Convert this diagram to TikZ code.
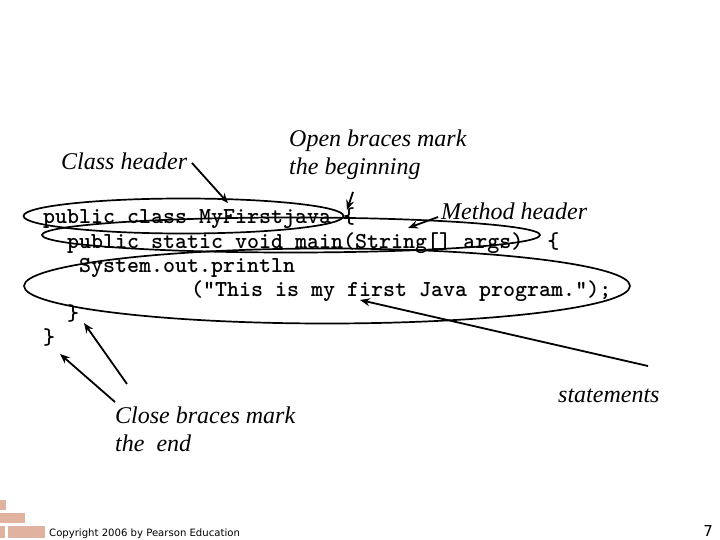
\documentclass[tikz,border=0pt]{standalone}
\usepackage{fontspec}
\setmainfont{Liberation Serif}
\setsansfont{DejaVu Sans}
\usepackage{tikz}
\usetikzlibrary{shapes.geometric, arrows.meta, positioning}
\usepackage{xcolor}
\definecolor{brickRed}{RGB}{226,178,160}

\begin{document}
\begin{tikzpicture}[
    x=1pt, y=-1pt,
    codeline/.style={anchor=base west, inner sep=0pt, font=\ttfamily\bfseries\fontsize{22.86}{24}\selectfont},
    note/.style={anchor=base west, inner sep=0pt, align=left, font=\itshape\fontsize{24}{28}\selectfont},
    ring/.style={ellipse, draw, line width=1.7pt, inner sep=0pt},
    arrow/.style={-{Stealth[length=3.5mm, width=2.8mm]}, line width=1.8pt},
    brick/.style={fill=brickRed, draw=none}
]
\useasboundingbox (0,0) rectangle (720,540);

% bricks in the corner
\fill[brick] (0,500) rectangle (6,510);
\fill[brick] (0,513) rectangle (25,523);
\fill[brick] (0,526) rectangle (5,538);
\fill[brick] (8,526) rectangle (45,538);

% code
\node[codeline] (line1) at (43,224) {public class MyFirstjava \{};
\node[codeline] (line2) at (67,248) {public static void main(String[] args) \ \{};
\node[codeline] (line3) at (79,272) {System.out.println};
\node[codeline] (line4) at (191,296) {("This is my first Java program.");};
\node[codeline] (line5) at (67,320) {\}};
\node[codeline] (line6) at (43,344) {\}};

% labels
\node[note] (classnote) at (61,170) {Class header};
\node[note] (opennote) at (289,175) {Open braces mark\\the beginning};
\node[note] (methodnote) at (441,219) {Method header};
\node[note] (closenote) at (115,451) {Close braces mark\\the\ \ end};
\node[note] (statenote) at (558,402) {statements};

\node[anchor=base west, inner sep=0pt, font=\sffamily\fontsize{10.1}{12}\selectfont] (copyright) at (49,536) {Copyright 2006 by Pearson Education};
\node[anchor=base east, inner sep=0pt, font=\sffamily\fontsize{15}{18}\selectfont] (pagenum) at (713,536) {7};

% rings
\node[ring, minimum width=320pt, minimum height=35pt] (classring) at (183.5,216) {};
\node[ring, minimum width=498pt, minimum height=35pt] (methodring) at (291,235) {};
\node[ring, minimum width=606pt, minimum height=75pt] (bodyring) at (327,286) {};

% free ends of the arrows
\coordinate (classtip) at (228,203);
\coordinate (opentip) at (347,210);
\coordinate (methodtip) at (408,228);
\coordinate (statetip) at (360,300);
\coordinate (innertip) at (84,323);
\coordinate (outertip) at (60,354);
\coordinate (classtail) at (192,163);
\coordinate (opentail) at (353,192);
\coordinate (methodtail) at (438,217);
\coordinate (statetail) at (648,366);
\coordinate (innertail) at (127,384);
\coordinate (outertail) at (115,402);

\draw[arrow] (classtail) -- (classtip);
\draw[arrow] (opentail) -- (opentip);
\draw[arrow] (methodtail) -- (methodtip);
\draw[arrow] (statetail) -- (statetip);
\draw[arrow] (innertail) -- (innertip);
\draw[arrow] (outertail) -- (outertip);

\end{tikzpicture}
\end{document}
